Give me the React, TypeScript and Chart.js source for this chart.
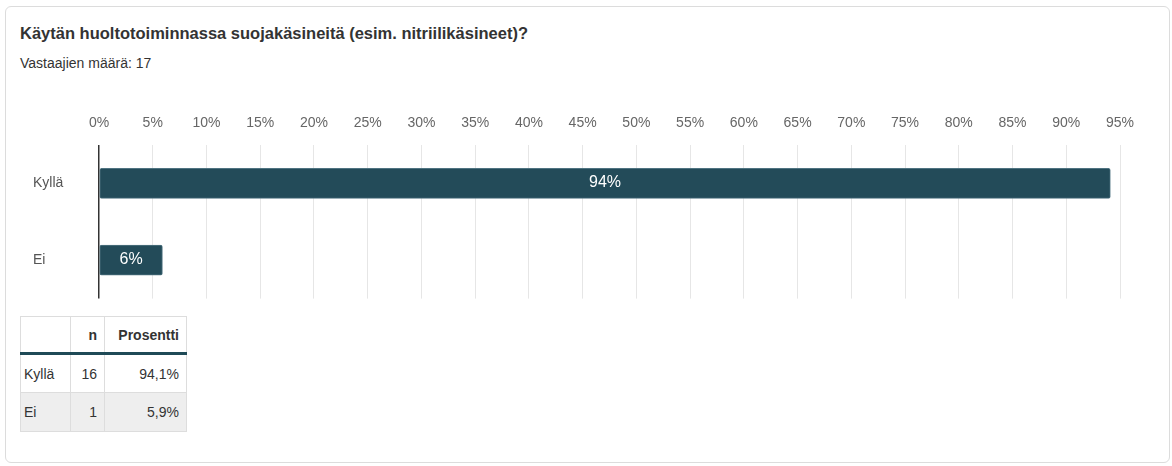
import React, { useEffect, useRef } from "react";
import { Chart, registerables } from "chart.js";

Chart.register(...registerables);

const title = "Käytän huoltotoiminnassa suojakäsineitä (esim. nitriilikäsineet)?";
const subtitle = "Vastaajien määrä: 17";
const categories = ["Kyllä", "Ei"];
const percentValues = [94.1, 5.9];
const counts = [16, 1];
const tableHeader = ["", "n", "Prosentti"];
const tablePercents = ["94,1%", "5,9%"];
const axisMax = 95;
const axisStep = 5;

const barColor = "#234b59";
const FONT = "Arial, 'Liberation Sans', sans-serif";

const valueLabelPlugin = {
  id: "valueLabels",
  afterDatasetsDraw(chart: any) {
    const ctx = chart.ctx;
    const meta = chart.getDatasetMeta(0);
    ctx.save();
    ctx.fillStyle = "#ffffff";
    ctx.font = "16px " + FONT;
    ctx.textAlign = "center";
    ctx.textBaseline = "middle";
    meta.data.forEach((bar: any, i: number) => {
      const v = percentValues[i];
      const cx = (bar.x + bar.base) / 2;
      ctx.fillText(Math.round(v) + "%", cx, bar.y - 1);
    });
    ctx.restore();
  },
};

function BarChart() {
  const ref = useRef<HTMLCanvasElement | null>(null);
  useEffect(() => {
    if (!ref.current) return;
    const chart = new Chart(ref.current, {
      type: "bar",
      data: {
        labels: categories,
        datasets: [
          {
            data: percentValues,
            backgroundColor: barColor,
            borderColor: "#4f7381",
            borderWidth: 1,
            borderRadius: 2,
            borderSkipped: false,
            barThickness: 30,
          },
        ],
      },
      options: {
        indexAxis: "y",
        animation: false,
        responsive: false,
        maintainAspectRatio: false,
        layout: { padding: { left: 33, right: 52, top: 0, bottom: 8 } },
        plugins: { legend: { display: false }, tooltip: { enabled: false } },
        scales: {
          x: {
            position: "top",
            min: 0,
            max: axisMax,
            afterFit: (s: any) => {
              s.height = 45;
            },
            ticks: {
              stepSize: axisStep,
              padding: 13,
              color: "#666",
              font: { size: 14, family: FONT },
              callback: (v: any) => v + "%",
            },
            border: { display: false },
            grid: {
              drawTicks: false,
              color: (c: any) => (c.tick && c.tick.value === 0 ? "#333333" : "#e6e6e6"),
              lineWidth: (c: any) => (c.tick && c.tick.value === 0 ? 1.5 : 1),
            },
          },
          y: {
            afterFit: (s: any) => {
              s.width = 66;
            },
            ticks: {
              crossAlign: "far",
              color: "#555",
              font: { size: 14, family: FONT },
            },
            border: { display: false },
            grid: { display: false, drawTicks: false },
          },
        },
      },
      plugins: [valueLabelPlugin],
    } as any);
    return () => chart.destroy();
  }, []);
  return (
    <canvas
      ref={ref}
      width={1172}
      height={210}
      style={{ position: "absolute", left: 0, top: 100, width: 1172, height: 210 }}
    />
  );
}

const cellBase: React.CSSProperties = {
  border: "1px solid #dddddd",
  padding: "0 7px",
  fontSize: 14,
  color: "#333",
  overflow: "hidden",
  whiteSpace: "nowrap",
};

const colWidths = [50, 34, 82];

export default function App() {
  return (
    <div
      style={{
        position: "absolute",
        left: 0,
        top: 0,
        width: 1172,
        height: 466,
        fontFamily: FONT,
        background: "#fff",
        overflow: "hidden",
      }}
    >
      <div
        style={{
          position: "absolute",
          left: 5,
          top: 6,
          width: 1165,
          height: 457,
          border: "1px solid #dcdcdc",
          borderRadius: 6,
          boxSizing: "border-box",
        }}
      />
      <div
        style={{
          position: "absolute",
          left: 20,
          top: 23,
          fontSize: 16.5,
          lineHeight: "20px",
          fontWeight: "bold",
          color: "#333",
          whiteSpace: "nowrap",
        }}
      >
        {title}
      </div>
      <div
        style={{
          position: "absolute",
          left: 20,
          top: 54,
          fontSize: 14,
          lineHeight: "18px",
          color: "#333",
          whiteSpace: "nowrap",
        }}
      >
        {subtitle}
      </div>
      <BarChart />
      <table
        style={{
          position: "absolute",
          left: 20,
          top: 316,
          width: 166,
          tableLayout: "fixed",
          borderCollapse: "collapse",
          fontFamily: FONT,
        }}
      >
        <colgroup>
          {colWidths.map((w, i) => (
            <col key={i} style={{ width: w }} />
          ))}
        </colgroup>
        <thead>
          <tr style={{ height: 37 }}>
            {tableHeader.map((h, i) => (
              <th
                key={i}
                style={{
                  ...cellBase,
                  borderTop: "1px solid #dddddd",
                  borderBottom: "3px solid #1f4a57",
                  fontWeight: "bold",
                  textAlign: i === 0 ? "left" : "right",
                }}
              >
                {h}
              </th>
            ))}
          </tr>
        </thead>
        <tbody>
          {categories.map((c, i) => (
            <tr key={c} style={{ height: 39, background: i % 2 === 1 ? "#eeeeee" : "#ffffff" }}>
              <td style={{ ...cellBase, textAlign: "left", padding: "0 3px" }}>{c}</td>
              <td style={{ ...cellBase, textAlign: "right" }}>{counts[i]}</td>
              <td style={{ ...cellBase, textAlign: "right" }}>{tablePercents[i]}</td>
            </tr>
          ))}
        </tbody>
      </table>
    </div>
  );
}
